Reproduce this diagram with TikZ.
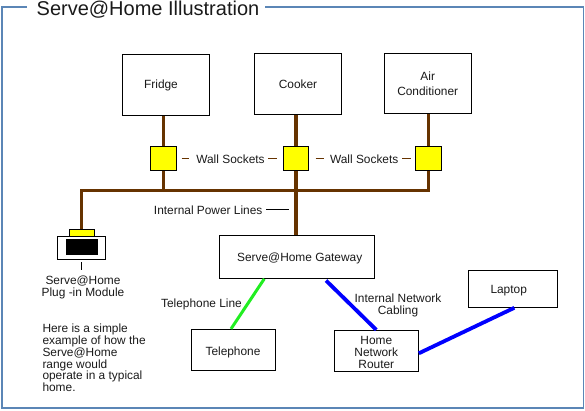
\documentclass[tikz,border=0pt]{standalone}
\usepackage{fontspec}
\setmainfont{Liberation Sans}
\definecolor{pw}{HTML}{663300}
\definecolor{frm}{HTML}{5B86B6}
\definecolor{grn}{HTML}{22EE22}
\definecolor{blu}{HTML}{0000FF}
\definecolor{txt}{HTML}{1A1A1A}
\definecolor{ylw}{HTML}{FFFF00}
\begin{document}
\begin{tikzpicture}[x=1pt,y=-1pt,
  every node/.style={font=\fontsize{11.9}{12.2}\selectfont, inner sep=0pt, text=txt, text depth=0pt},
  box/.style={draw=black, line width=1pt, fill=white, align=center},
  socket/.style={draw=black, line width=1pt, fill=ylw, minimum width=25.7pt, minimum height=23.7pt},
  power/.style={draw=pw, line width=3.3pt},
  tick/.style={draw=pw, line width=1pt},
  blk/.style={draw=black, line width=1pt},
  tel/.style={draw=grn, line width=3pt},
  net/.style={draw=blu, line width=3.8pt}]
\useasboundingbox (0,0) rectangle (585,410);
% frame
\node (ttl) at (148,7.9) {\fontsize{20}{20}\selectfont Serve@Home Illustration};
\draw[frm, line width=1.8pt] (27,6.7) -- (1.8,6.7) -- (1.8,407.8) -- (583.5,407.8) -- (583.5,6.7) -- (264.5,6.7);
% appliances
\node[box, minimum width=86.6pt, minimum height=61pt] (fridge) at (166,84.8) {};
\node at (161,84.3) {Fridge};
\node[box, minimum width=87.4pt, minimum height=61pt] (cooker) at (298,83.8) {Cooker};
\node[box, minimum width=87.3pt, minimum height=60pt] (ac) at (427.7,83.3) {Air\\[2.6pt]Conditioner};
% sockets
\node[socket] (s1) at (163.3,158.8) {};
\node[socket] (s2) at (296,158.8) {};
\node[socket] (s3) at (428.5,158.8) {};
% plug-in module
\node[draw=black, line width=1pt, fill=ylw, minimum width=25pt, minimum height=6.3pt] (plugy) at (81.8,233.1) {};
\node[box, minimum width=48.4pt, minimum height=23.3pt] (plugbox) at (81.5,247.7) {};
\node[fill=black, minimum width=32.6pt, minimum height=16.3pt] (plugblk) at (82,246.8) {};
\node[align=center] (plugtxt) at (83,285.8) {Serve@Home\\Plug -in Module};
% gateway and network
\node[box, minimum width=154.7pt, minimum height=43pt] (gw) at (296.7,256.8) {};
\node at (299.7,257) {Serve@Home Gateway};
\node[box, minimum width=84.4pt, minimum height=40.7pt] (phone) at (233.5,349.7) {};
\node at (233,350.7) {Telephone};
\node[box, minimum width=84pt, minimum height=40.7pt] (router) at (376.3,350.7) {};
\node[align=center] at (376.3,352.2) {Home\\Network\\Router};
\node[box, minimum width=89pt, minimum height=37pt] (laptop) at (512.8,288.8) {};
\node at (508.7,289.3) {Laptop};
% power wiring
\coordinate (busR) at (428.5,190.3);
\draw[power] (fridge.south -| s1) -- (s1.north);
\draw[power] (cooker.south -| s2) -- (s2.north);
\draw[power] (ac.south -| s3) -- (s3.north);
\draw[power] (plugy.north) |- (busR) -- (s3.south);
\draw[power] (s1.south) -- (s1.south |- busR);
\draw[power] (s2.south) -- (gw.north -| s2);
% labels
\node (ws1) at (230.5,159.6) {Wall Sockets};
\node (ws2) at (364.2,159.6) {Wall Sockets};
\draw[tick] ([xshift=5pt]s1.east) -- ++(7.6,0);
\draw[tick] ([xshift=-6pt]s2.west) -- ++(-8.7,0);
\draw[tick] ([xshift=6.3pt]s2.east) -- ++(8.3,0);
\draw[tick] ([xshift=-4.3pt]s3.west) -- ++(-8.4,0);
\node (ipl) at (208.2,209.8) {Internal Power Lines};
\draw[blk] (266,209.3) -- (289,209.3);
\draw[blk] ([yshift=-2.4pt]plugbox.south) -- ([yshift=-10pt]plugbox.south);
% telephone and network links
\draw[tel] ([xshift=-32.4pt]gw.south) -- ([xshift=-2.5pt]phone.north);
\draw[net] ([xshift=29.3pt,yshift=-1.7pt]gw.south) -- (router.north);
\draw[net] ([yshift=-2.6pt]router.east) -- ([xshift=1.5pt]laptop.south);
\node (tlab) at (201.5,303.5) {Telephone Line};
\node[align=center] (nlab) at (398,303.8) {Internal Network\\Cabling};
% description
\node[align=left, anchor=north west, font=\fontsize{11.9}{11.8}\selectfont] (desc) at (42.3,323.8) {Here is a simple\\example of how the\\Serve@Home\\range would\\operate in a typical\\home.};
\end{tikzpicture}
\end{document}
